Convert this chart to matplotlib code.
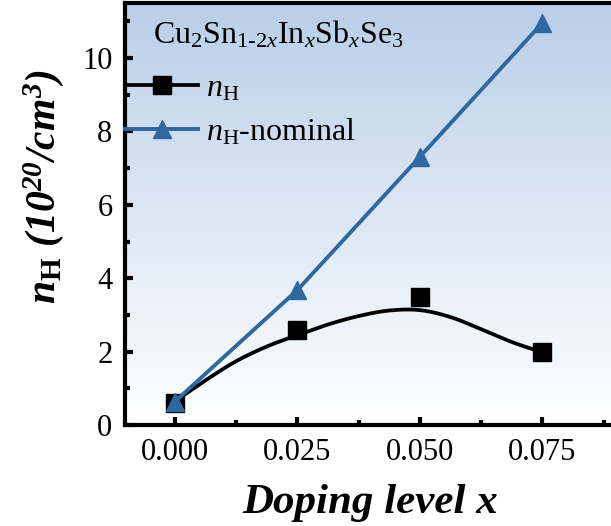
import numpy as np
import matplotlib
matplotlib.use("Agg")
import matplotlib.pyplot as plt
from matplotlib.ticker import MultipleLocator, FormatStrFormatter

# data
doping = [0.0, 0.025, 0.050, 0.075]
n_h = [0.60, 2.59, 3.50, 2.00]
n_h_nominal = [0.64, 3.68, 7.31, 10.96]

# smooth guide line through n_H
fit_x = [0.0, 0.00625, 0.0125, 0.01875, 0.025, 0.03125, 0.0375,
         0.04375, 0.05, 0.05625, 0.0625, 0.06875, 0.075]
fit_y = [0.65, 1.22, 1.74, 2.14, 2.45, 2.74, 2.97,
         3.12, 3.13, 2.94, 2.61, 2.26, 1.98]


def smooth(xp, yp, n=16):
    # catmull-rom through the read points
    xp = np.asarray(xp)
    yp = np.asarray(yp)
    px = np.r_[2 * xp[0] - xp[1], xp, 2 * xp[-1] - xp[-2]]
    py = np.r_[2 * yp[0] - yp[1], yp, 2 * yp[-1] - yp[-2]]
    t = np.linspace(0, 1, n, endpoint=False)[:, None]
    out = []
    for p in (px, py):
        segs = []
        for i in range(1, len(p) - 2):
            p0, p1, p2, p3 = p[i - 1], p[i], p[i + 1], p[i + 2]
            segs.append(0.5 * (2 * p1 + (-p0 + p2) * t
                               + (2 * p0 - 5 * p1 + 4 * p2 - p3) * t ** 2
                               + (-p0 + 3 * p1 - 3 * p2 + p3) * t ** 3))
        out.append(np.r_[np.concatenate(segs).ravel(), p[-2]])
    return out


plt.rcParams['font.family'] = ['Liberation Serif', 'DejaVu Serif']
plt.rcParams['mathtext.fontset'] = 'custom'
plt.rcParams['mathtext.rm'] = 'Liberation Serif'
plt.rcParams['mathtext.it'] = 'Liberation Serif:italic'
plt.rcParams['mathtext.bf'] = 'Liberation Serif:bold'
plt.rcParams['mathtext.bfit'] = 'Liberation Serif:bold:italic'

W, H = 611, 526
AX_L, AX_R, AX_T, AX_B = 125, 616, 3, 425
aw, ah = AX_R - AX_L, AX_B - AX_T
fig = plt.figure(figsize=(W / 100, H / 100), dpi=100)
ax = fig.add_axes([AX_L / W, 1 - AX_B / H, aw / W, ah / H])

# blue-to-white background gradient
top = np.array([185, 207, 232]) / 255
grad = np.linspace(0, 1, 256)[:, None]
img = top[None, :] * (1 - grad) + np.ones(3)[None, :] * grad
img = img[:, None, :]
ax.imshow(img, extent=[0, 1, 0, 1], transform=ax.transAxes, aspect='auto',
          zorder=0, interpolation='bilinear')

blue = '#2f67a0'
sx, sy = smooth(fit_x, fit_y)
ax.plot(sx, sy, color='black', lw=2.7, zorder=2, solid_capstyle='round')
ax.plot(doping, n_h, ls='none', marker='s', ms=12.5, color='black', zorder=3)
ax.plot(doping, n_h_nominal, color=blue, lw=2.8, marker='^', ms=13,
        zorder=3, solid_capstyle='round')

# legend proxies
h1, = ax.plot([], [], color='black', lw=2.7, marker='s', ms=12.5)
h2, = ax.plot([], [], color=blue, lw=2.8, marker='^', ms=13)
leg = ax.legend([h1, h2], [r'$n_\mathrm{H}$', r'$n_\mathrm{H}$-nominal'],
                loc='upper left', bbox_to_anchor=(0.0, (AX_B - 74) / ah),
                frameon=False, fontsize=23, handlelength=2.3,
                handletextpad=0.25, labelspacing=0.42, borderaxespad=0,
                borderpad=0)
ax.text((153 - AX_L) / aw, (AX_B - 35) / ah,
        r'Cu$_2$Sn$_{1\text{-}2x}$In$_x$Sb$_x$Se$_3$',
        transform=ax.transAxes, fontsize=23, va='center', ha='left')

ax.set_xlim(-0.0102, 0.09)
ax.set_ylim(0, 11.5)
ax.xaxis.set_major_locator(MultipleLocator(0.025))
ax.xaxis.set_minor_locator(MultipleLocator(0.0125))
ax.xaxis.set_major_formatter(FormatStrFormatter('%.3f'))
ax.yaxis.set_major_locator(MultipleLocator(2))
ax.yaxis.set_minor_locator(MultipleLocator(1))

for s in ax.spines.values():
    s.set_linewidth(3)
ax.tick_params(which='major', direction='in', length=6, width=3,
               labelsize=22, pad=9)
ax.tick_params(which='minor', direction='in', length=3.5, width=3)
ax.tick_params(top=False, right=False, which='both')

ax.set_xlabel('Doping level x', fontsize=31, fontweight='bold',
              style='italic')
ax.xaxis.set_label_coords((370 - AX_L) / aw, -(503 - AX_B) / ah)
ax.xaxis.label.set_va('center')
ax.set_ylabel(r'$\mathbfit{n}_\mathbf{H}$ (10$^{\mathbfit{20}}$/cm$^{\mathbfit{3}}$)',
              fontsize=30, fontweight='bold', style='italic')
ax.yaxis.set_label_coords(-(AX_L - 44) / aw, (AX_B - 187) / ah)
ax.yaxis.label.set_va('center')

fig.savefig('out.png', dpi=100)
